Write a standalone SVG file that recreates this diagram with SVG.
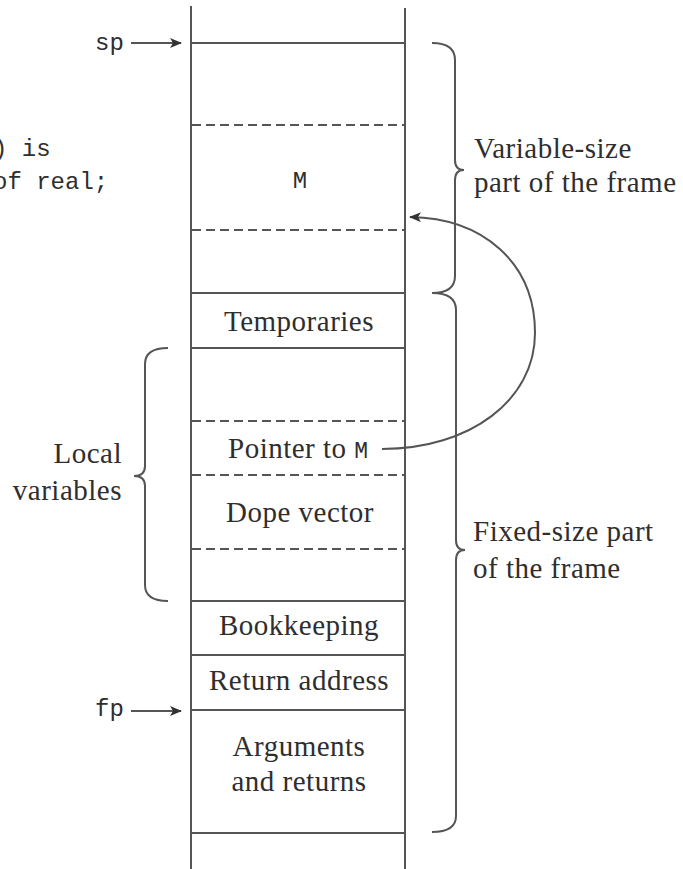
<svg xmlns="http://www.w3.org/2000/svg" width="683" height="869" viewBox="0 0 683 869">
<style>
.ln{stroke:#555;stroke-width:2;fill:none}
.dash{stroke:#555;stroke-width:2;fill:none;stroke-dasharray:9 5}
.br{stroke:#555;stroke-width:2;fill:none}
.t{font-family:"Liberation Serif",serif;font-size:29px;letter-spacing:0.5px;fill:#2e2e2e}
.tc{font-family:"Liberation Serif",serif;font-size:29px;letter-spacing:0.5px;fill:#2e2e2e;text-anchor:middle}
.m{font-family:"Liberation Mono",monospace;font-size:24px;fill:#2e2e2e;letter-spacing:0}
</style>
<defs>
<marker id="ah" viewBox="0 0 12 10" refX="11" refY="5" markerWidth="12" markerHeight="10" markerUnits="userSpaceOnUse" orient="auto">
<path d="M0,0 L12,5 L0,10 L3,5 Z" fill="#333"/>
</marker>
</defs>
<g id="stack">
<line class="ln" x1="191" y1="6" x2="191" y2="869"/>
<line class="ln" x1="405" y1="8" x2="405" y2="869"/>
<line class="ln" x1="191" y1="43" x2="405" y2="43"/>
<line class="dash" x1="192" y1="125" x2="405" y2="125"/>
<line class="dash" x1="192" y1="230" x2="405" y2="230"/>
<line class="ln" x1="191" y1="293" x2="405" y2="293"/>
<line class="ln" x1="191" y1="348" x2="405" y2="348"/>
<line class="dash" x1="192" y1="421" x2="405" y2="421"/>
<line class="dash" x1="192" y1="475" x2="405" y2="475"/>
<line class="dash" x1="192" y1="549" x2="405" y2="549"/>
<line class="ln" x1="191" y1="601" x2="405" y2="601"/>
<line class="ln" x1="191" y1="655" x2="405" y2="655"/>
<line class="ln" x1="191" y1="710" x2="405" y2="710"/>
<line class="ln" x1="191" y1="833" x2="405" y2="833"/>
</g>
<g id="code">
<text class="m" x="-7" y="156">) is</text>
<text class="m" x="-7" y="189">of real;</text>
</g>
<g id="sp"><text class="m" x="95" y="50">sp</text></g>
<g id="fp"><text class="m" x="95" y="716">fp</text></g>
<g id="cell-M"><text class="m" x="300" y="188" text-anchor="middle">M</text></g>
<g id="temporaries"><text class="tc" x="299" y="331">Temporaries</text></g>
<g id="pointer"><text class="t" x="228" y="458">Pointer to <tspan class="m" style="font-size:23px">M</tspan></text></g>
<g id="dope"><text class="tc" x="300" y="522">Dope vector</text></g>
<g id="bookkeeping"><text class="tc" x="299" y="635">Bookkeeping</text></g>
<g id="retaddr"><text class="tc" x="299" y="690">Return address</text></g>
<g id="args"><text class="tc" x="299" y="756">Arguments</text><text class="tc" x="299" y="791">and returns</text></g>
<g id="varsize"><text class="t" x="474" y="158">Variable-size</text><text class="t" x="474" y="192">part of the frame</text></g>
<g id="fixedsize"><text class="t" x="473" y="541">Fixed-size part</text><text class="t" x="473" y="578">of the frame</text></g>
<g id="localvars"><text class="t" x="122" y="463" text-anchor="end">Local</text><text class="t" x="122" y="500" text-anchor="end">variables</text></g>
<g id="braces">
<path class="br" d="M432,43 Q455,43 455,60 L455,160 Q455,170 464,170 Q455,170 455,180 L455,276 Q455,293 432,293"/>
<path class="br" d="M432,293 Q456,293 456,310 L456,540 Q456,550 465,550 Q456,550 456,560 L456,816 Q456,832 432,832"/>
<path class="br" d="M168,348 Q145,348 145,364 L145,466 Q145,476 134,476 Q145,476 145,486 L145,585 Q145,601 168,601"/>
</g>
<g id="connectors">
<line class="ln" x1="131" y1="43" x2="181" y2="43" marker-end="url(#ah)"/>
<line class="ln" x1="131" y1="711" x2="181" y2="711" marker-end="url(#ah)"/>
<path class="ln" d="M382,449 C470,449 535,400 535,333 C535,262 482,218 410,217" marker-end="url(#ah)"/>
</g>
</svg>
